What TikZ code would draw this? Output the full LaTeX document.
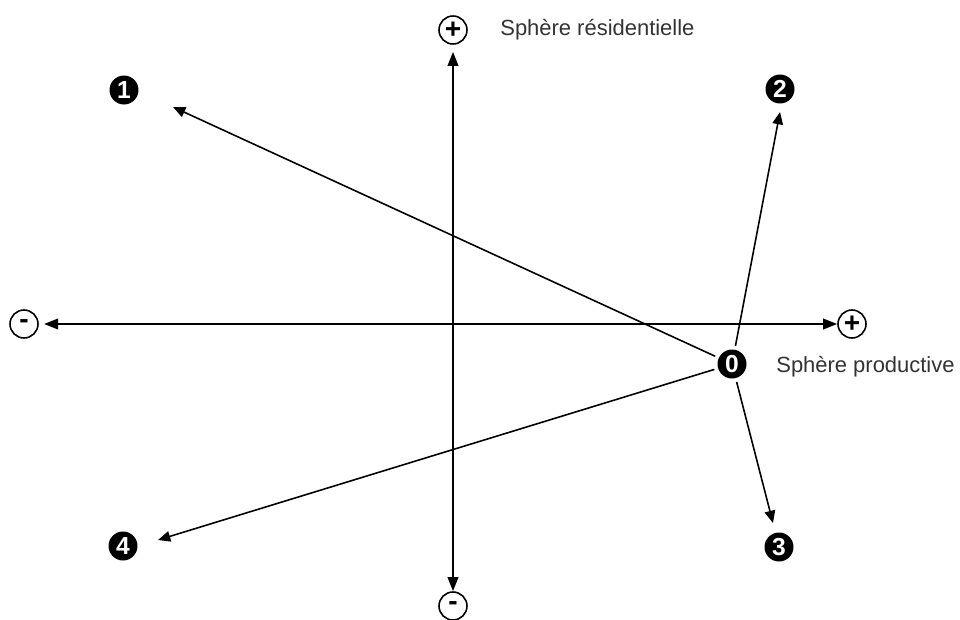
\documentclass[tikz,border=0pt]{standalone}
\usepackage{fontspec}
\setmainfont{Liberation Sans}
\usetikzlibrary{arrows.meta}

\begin{document}
\begin{tikzpicture}[x=0.02cm,y=-0.02cm,
    signe/.style={circle,draw,line width=0.9pt,minimum size=0.56cm,
        inner sep=0pt,font=\bfseries\fontsize{16}{16}\selectfont},
    pastille/.style={circle,fill=black,text=white,minimum size=0.58cm,
        inner sep=0pt,font=\bfseries\fontsize{14}{14}\selectfont},
    axe/.style={line width=1.2pt,
        {Triangle[length=8pt,width=6pt]}-{Triangle[length=8pt,width=6pt]}},
    vec/.style={line width=0.9pt,-{Triangle[length=7pt,width=6pt]}},
    legende/.style={anchor=west,inner sep=0pt,text=black!80,
        font=\fontsize{12.5}{14}\selectfont}]
    \useasboundingbox (0,0) rectangle (960,619);
    % axes
    \node[signe] (moinsx) at (24,324) {-};
    \node[signe] (plusx) at (852,324) {+};
    \node[signe] (plusy) at (453,30) {+};
    \node[signe] (moinsy) at (453,606) {-};
    \draw[axe,shorten <=3pt] (moinsx) -- (plusx);
    \draw[axe,shorten >=4pt] (moinsy) -- (plusy);
    \node[legende] (resid) at (500,30) {Sphère résidentielle};
    \node[legende] (prod) at (776,367) {Sphère productive};
    % positions
    \node[pastille,outer sep=0.08cm] (o) at (732,364) {0};
    \node[pastille] (p1) at (124,90) {1};
    \node[pastille] (p2) at (780,89) {2};
    \node[pastille] (p3) at (779,547) {3};
    \node[pastille] (p4) at (123,546) {4};
    \coordinate (t1) at (173,107);
    \coordinate (t2) at (780,112);
    \coordinate (t3) at (773,523);
    \coordinate (t4) at (158,540);
    \draw[vec] (o) -- (t1);
    \draw[vec] (o) -- (t2);
    \draw[vec] (o) -- (t3);
    \draw[vec] (o) -- (t4);
\end{tikzpicture}
\end{document}
